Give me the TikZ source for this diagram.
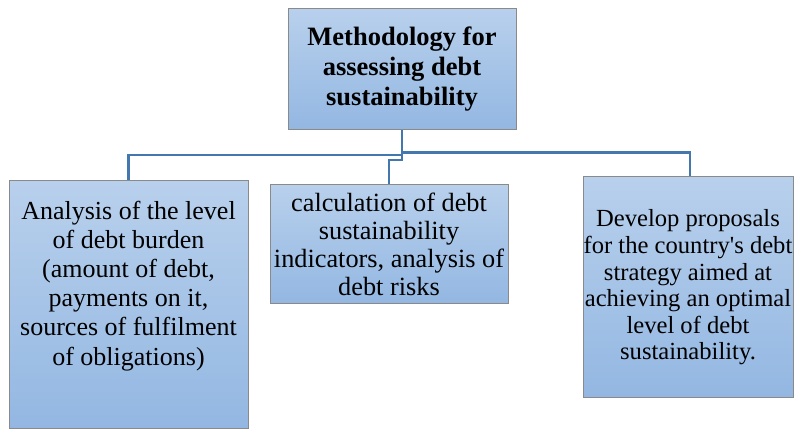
\documentclass[tikz,border=0pt]{standalone}
\usepackage{fontspec}
\setmainfont{Liberation Serif}
\begin{document}
\definecolor{boxtop}{HTML}{B8D0EC}
\definecolor{boxbot}{HTML}{93B7E2}
\definecolor{boxline}{HTML}{8A8A8A}
\definecolor{wire}{HTML}{4477AE}
\begin{tikzpicture}[x=1pt,y=-1pt,
  box/.style={draw=boxline, line width=1pt, top color=boxtop, bottom color=boxbot,
    inner sep=0pt, align=center},
  txt/.style={inner sep=0pt, align=center},
  wirestyle/.style={draw=wire, line width=2.6pt}]
\useasboundingbox (0,0) rectangle (796,430);

% head box
\node[box, minimum width=228, minimum height=121,
      font=\bfseries\fontsize{26.5}{30}\selectfont] (top) at (402,69.5)
  {Methodology for\\assessing debt\\sustainability};

% three sub-boxes
\node[box, minimum width=239, minimum height=248] (left) at (128.5,305) {};
\node[txt, anchor=north, font=\fontsize{26}{29.2}\selectfont] (lefttext)
  at ([yshift=-20pt]left.north)
  {Analysis of the level\\of debt burden\\(amount of debt,\\payments on it,\\sources of fulfilment\\of obligations)};

\node[box, minimum width=238, minimum height=119,
      font=\fontsize{26.3}{28}\selectfont] (mid) at (389,244.5)
  {calculation of debt\\sustainability\\indicators, analysis of\\debt risks};

\node[box, minimum width=210, minimum height=221,
      font=\fontsize{24.6}{26.6}\selectfont] (right) at (688,287.5)
  {Develop proposals\\for the country\textquotesingle s debt\\strategy aimed at\\achieving an optimal\\level of debt\\sustainability.};

% connectors
\coordinate (jl) at (402,155);
\coordinate (jr) at (402,152.7);
\draw[wirestyle] (top.south) -- (jl) -| (left.north);
\draw[wirestyle] (jr) -| ([xshift=2pt]right.north);
\draw[wirestyle] (jl) -- ++(0,5) -| (mid.north);
\end{tikzpicture}
\end{document}
